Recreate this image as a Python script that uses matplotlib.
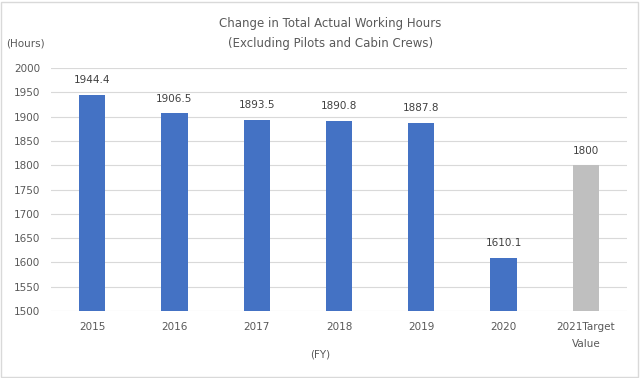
import numpy as np
import matplotlib.pyplot as plt
from matplotlib.patches import Rectangle

categories = ['2015', '2016', '2017', '2018', '2019', '2020', '2021Target\nValue']
hours = [1944.4, 1906.5, 1893.5, 1890.8, 1887.8, 1610.1, 1800]
value_labels = ['1944.4', '1906.5', '1893.5', '1890.8', '1887.8', '1610.1', '1800']
yticks = list(range(1500, 2001, 50))

txt = '#595959'
colors = ['#4472C4'] * 6 + ['#BFBFBF']

fig = plt.figure(figsize=(6.4, 3.78), dpi=100)
ax = fig.add_axes([0.0797, 0.177, 0.9, 0.643])

x = np.arange(len(categories))
ax.bar(x, np.array(hours) - 1500, bottom=1500, width=0.32, color=colors, zorder=3)
for xi, h, lab in zip(x, hours, value_labels):
    ax.text(xi, h + 20, lab, ha='center', va='bottom', fontsize=7.5, color='#404040')

ax.set_xlim(-0.5, len(categories) - 0.5)
ax.set_ylim(1500, 2000)
ax.set_yticks(yticks)
ax.set_xticks(x)
ax.set_xticklabels(categories, fontsize=7.5, color=txt, linespacing=1.9)
ax.tick_params(axis='y', labelsize=7.5, colors=txt, length=0, pad=8)
ax.tick_params(axis='x', length=0, pad=8)
ax.grid(axis='y', color='#D9D9D9', linewidth=0.8, zorder=0)
for s in ax.spines.values():
    s.set_visible(False)

fig.text(0.516, 0.938, 'Change in Total Actual Working Hours', ha='center', va='center', fontsize=8.5, color=txt)
fig.text(0.516, 0.885, '(Excluding Pilots and Cabin Crews)', ha='center', va='center', fontsize=8.5, color=txt)
fig.text(0.04, 0.885, '(Hours)', ha='center', va='center', fontsize=7.5, color=txt)
fig.text(0.5, 0.063, '(FY)', ha='center', va='center', fontsize=7.5, color=txt)

fig.patches.append(Rectangle((0.002, 0.003), 0.995, 0.993, transform=fig.transFigure,
                             fill=False, edgecolor='#D9D9D9', linewidth=1))

fig.savefig('out.png', dpi=100)
